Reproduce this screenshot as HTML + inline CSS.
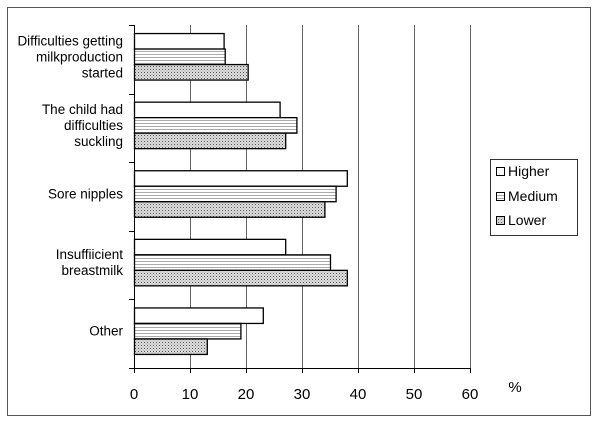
<!DOCTYPE html>
<html><head><meta charset="utf-8"><style>
html,body{margin:0;padding:0;background:#fff;}
svg{display:block;font-family:"Liberation Sans",Arial,sans-serif;}
</style></head><body>
<svg id="chart" width="600" height="430">
<defs>
<pattern id="hstripe" width="4" height="3" patternUnits="userSpaceOnUse"><rect width="4" height="3" fill="#fff"/><rect y="0" width="4" height="1" fill="#aaa"/></pattern>
<pattern id="dots" width="3" height="3" patternUnits="userSpaceOnUse"><rect width="3" height="3" fill="#ddd"/><rect x="0" y="0" width="1" height="1" fill="#555"/><rect x="1.5" y="1.5" width="1" height="1" fill="#999"/></pattern>
</defs>
<rect x="7.5" y="7.5" width="583" height="408" fill="#fff" stroke="#555"/>
<g id="grid"></g><g id="bars"></g><g id="axes"></g>
<g>
<rect x="490.5" y="159.5" width="87" height="76" fill="#fff" stroke="#333"/>
<rect x="496.5" y="167.5" width="8" height="8" fill="#fff" stroke="#000"/>
<text x="508" y="176" font-size="14">Higher</text>
<rect x="496.5" y="192.5" width="8" height="8" fill="url(#hstripe)" stroke="#000"/>
<text x="508" y="201" font-size="14">Medium</text>
<rect x="496.5" y="216.5" width="8" height="8" fill="url(#dots)" stroke="#000"/>
<text x="508" y="225" font-size="14">Lower</text>
</g>
<text x="515" y="392" font-size="15" text-anchor="middle">%</text>
</svg>
<script>
const categories=[["Difficulties getting","milkproduction","started"],["The child had","difficulties","suckling"],["Sore nipples"],["Insuffiicient","breastmilk"],["Other"]];
const higher=[16,26,38,27,23];
const medium=[16.2,29,36,35,19];
const lower=[20.3,27,34,38,13];
const xTicks=[0,10,20,30,40,50,60];
const NS="http://www.w3.org/2000/svg";
const x0=134,x1=470,y0=25,y1=368,xmax=60;
const xs=v=>x0+(x1-x0)*v/xmax;
const band=(y1-y0)/categories.length;
function mk(t,a,p){const e=document.createElementNS(NS,t);for(const k in a)e.setAttribute(k,a[k]);p.appendChild(e);return e;}
const grid=document.getElementById('grid'),bars=document.getElementById('bars'),axes=document.getElementById('axes');
xTicks.forEach(t=>{
  if(t>0){const g=mk('line',{x1:xs(t)+.5,x2:xs(t)+.5,y1:y0,y2:y1,stroke:'#666'},grid);
  
  }
  const tx=mk('text',{x:xs(t),y:399,'font-size':15,'text-anchor':'middle'},axes);tx.textContent=t;
  
  
});
const series=[[higher,'#fff','higher'],[medium,'url(#hstripe)','medium'],[lower,'url(#dots)','lower']];
const bh=15.5;
categories.forEach((c,i)=>{
  const top=y0+i*band+(band-3*bh)/2-3;
  series.forEach((s,j)=>{
    const r=mk('rect',{x:x0+.5,y:top+j*bh+.5,width:xs(s[0][i])-x0,height:bh,fill:s[1],stroke:'#000','stroke-width':1.3},bars);
    
    
  });
  const cy=y0+i*band+band/2-3, n=c.length, lh=16;
  const tx=mk('text',{x:123,'font-size':13.5,'text-anchor':'end'},axes);
  
  
  c.forEach((l,k)=>{const ts=mk('tspan',{x:123,y:cy+5+(k-(n-1)/2)*lh},tx);ts.textContent=l;});
});
for(let i=0;i<=categories.length;i++){
  const y=Math.round(y0+i*band)+.5;
  const t=mk('line',{x1:x0-5,x2:x0,y1:y,y2:y,stroke:'#000'},axes);
  
  
}
const ax=mk('line',{x1:x0+.5,x2:x0+.5,y1:y0,y2:y1,stroke:'#000'},axes);


const xa=mk('line',{x1:x0,x2:x1,y1:y1+.5,y2:y1+.5,stroke:'#000'},axes);


for(const t of xTicks){const l=mk('line',{x1:xs(t)+.5,x2:xs(t)+.5,y1:y1,y2:y1+5,stroke:'#000'},axes);

}
</script>
</body></html>
